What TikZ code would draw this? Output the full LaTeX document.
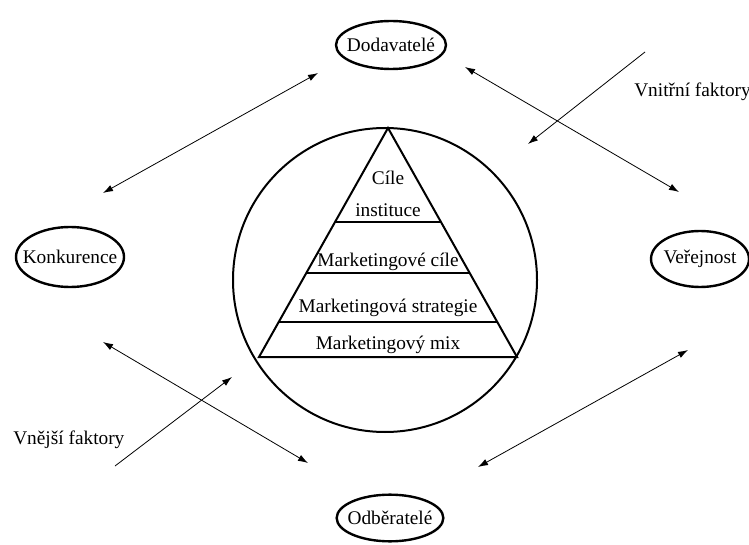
\documentclass[tikz,border=0pt]{standalone}
\usepackage{fontspec}
\setmainfont{Liberation Serif}
\usetikzlibrary{shapes.geometric,arrows.meta,calc}
\begin{document}
\begin{tikzpicture}[x=0.75pt,y=-0.75pt,
    every node/.style={font=\fontsize{14.5}{17}\selectfont},
    party/.style={ellipse, draw, line width=1.8pt, inner sep=0pt},
    flow/.style={{Latex[length=7.5pt,width=5pt]}-{Latex[length=7.5pt,width=5pt]}, line width=0.6pt},
    push/.style={-{Latex[length=7.5pt,width=5pt]}, line width=0.6pt}]
    \useasboundingbox (0,0) rectangle (749,545);

    % the four partners
    \node[party, minimum width=82.5pt, minimum height=36pt] (dod) at (391,45) {\makebox[0pt]{Dodavatelé}};
    \node[party, minimum width=81pt, minimum height=45pt] (kon) at (70,257) {\makebox[0pt]{Konkurence}};
    \node[party, minimum width=73.5pt, minimum height=42pt] (ver) at (700,259) {\makebox[0pt]{Veřejnost}};
    \node[party, minimum width=80pt, minimum height=35pt] (odb) at (390,518) {\makebox[0pt]{Odběratelé}};

    % circle and pyramid
    \draw[line width=1.5pt] (385,280) circle [radius=114pt];
    \coordinate (apex) at (388,128);
    \coordinate (bl) at (259,357);
    \coordinate (br) at (517,357);
    \draw[line width=1.5pt] (apex) -- (bl) -- (br) -- cycle;
    \foreach \t in {0.41,0.633,0.847}
        \draw[line width=1.5pt] ($(apex)!\t!(bl)$) -- ($(apex)!\t!(br)$);

    \node (cile) at (388,178) {Cíle};
    \node (inst) at (388,210) {instituce};
    \node (mcile) at (388,262) {Marketingové cíle};
    \node (mstrat) at (388,308) {Marketingová strategie};
    \node (mmix) at (388,345) {Marketingový mix};

    % arrows
    \coordinate (dk1) at (318,73);
    \coordinate (dk2) at (103,193);
    \coordinate (dv1) at (465,67);
    \coordinate (dv2) at (679,192);
    \coordinate (ko1) at (103,342);
    \coordinate (ko2) at (308,463);
    \coordinate (ov1) at (478,467);
    \coordinate (ov2) at (688,350);
    \coordinate (vin1) at (645,52);
    \coordinate (vin2) at (528,144);
    \coordinate (vne1) at (115,466);
    \coordinate (vne2) at (232,377);

    \draw[flow] (dk1) -- (dk2);
    \draw[flow] (dv1) -- (dv2);
    \draw[flow] (ko1) -- (ko2);
    \draw[flow] (ov1) -- (ov2);
    \draw[push] (vin1) -- (vin2);
    \draw[push] (vne1) -- (vne2);

    \node[anchor=west, inner sep=0pt] (vnitr) at (634,92) {Vnitřní faktory};
    \node[anchor=west, inner sep=0pt] (vnej) at (13,440) {Vnější faktory};
\end{tikzpicture}
\end{document}
